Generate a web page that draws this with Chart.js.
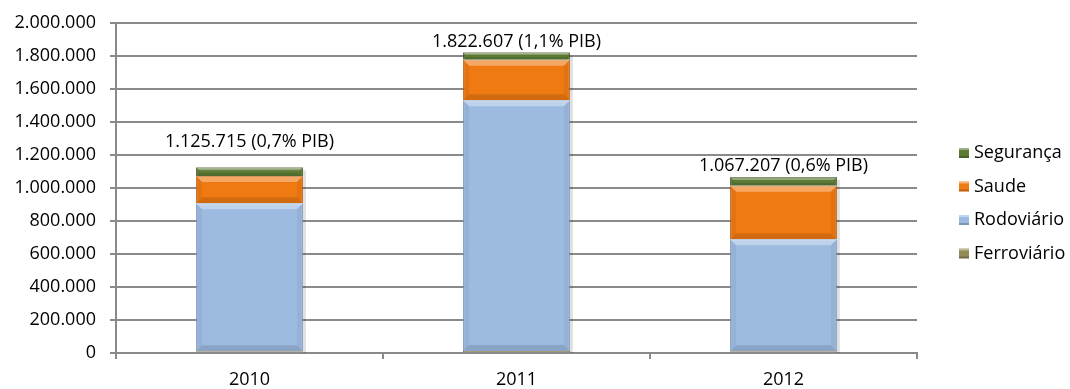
<!DOCTYPE html>
<html>
<head>
<meta charset="utf-8">
<script src="https://cdn.jsdelivr.net/npm/chart.js@4/dist/chart.umd.min.js"></script>
<style>
  html, body { margin: 0; padding: 0; background: #fff; }
  #wrap { width: 1070px; height: 389px; }
</style>
</head>
<body>
<div id="wrap"><canvas id="chart" width="1070" height="389"></canvas></div>
<script>
// chart data
const years = ['2010', '2011', '2012'];
const ferroviario = [10000, 12000, 10000];
const rodoviario = [897000, 1520000, 679000];
const saude = [165000, 246000, 324000];
const seguranca = [53715, 44607, 54207];
const totalLabels = ['1.125.715 (0,7% PIB)', '1.822.607 (1,1% PIB)', '1.067.207 (0,6% PIB)'];
const yTicks = [0, 200000, 400000, 600000, 800000, 1000000, 1200000, 1400000, 1600000, 1800000, 2000000];

const FONT = '"Open Sans", sans-serif';
const FSIZE = 18;
const gridColor = '#8a8a8a';
// manual label lift above each stack, as placed in the original
const labelLift = [25, 10, 11];

function fmt(v) {
  return String(v).replace(/\B(?=(\d{3})+(?!\d))/g, '.');
}

// Excel-like bevel on each bar segment
const bevelPlugin = {
  id: 'bevel',
  beforeDatasetsDraw(chart) {
    // soft shadow to the right of each stack
    const ctx = chart.ctx;
    const last = chart.data.datasets.length - 1;
    chart.getDatasetMeta(last).data.forEach(bar => {
      const right = bar.x + bar.width / 2;
      ctx.save();
      ctx.fillStyle = 'rgba(0,0,0,0.12)';
      ctx.fillRect(right, bar.y + 3, 3, chart.chartArea.bottom - bar.y - 3);
      ctx.restore();
    });
  },
  afterDatasetsDraw(chart) {
    const ctx = chart.ctx;
    chart.data.datasets.forEach((ds, i) => {
      const meta = chart.getDatasetMeta(i);
      meta.data.forEach(bar => {
        const left = bar.x - bar.width / 2;
        const right = bar.x + bar.width / 2;
        const top = bar.y;
        const bottom = bar.base;
        const h = bottom - top;
        const b = Math.min(6, h / 3);
        if (b < 1.5) return;
        ctx.save();
        // top light edge
        ctx.fillStyle = 'rgba(255,255,255,0.35)';
        ctx.beginPath();
        ctx.moveTo(left, top); ctx.lineTo(right, top);
        ctx.lineTo(right - b, top + b); ctx.lineTo(left + b, top + b);
        ctx.closePath(); ctx.fill();
        // bottom dark edge
        ctx.fillStyle = 'rgba(0,0,0,0.12)';
        ctx.beginPath();
        ctx.moveTo(left, bottom); ctx.lineTo(right, bottom);
        ctx.lineTo(right - b, bottom - b); ctx.lineTo(left + b, bottom - b);
        ctx.closePath(); ctx.fill();
        // sides
        ctx.fillStyle = 'rgba(0,0,0,0.05)';
        ctx.beginPath();
        ctx.moveTo(left, top); ctx.lineTo(left + b, top + b);
        ctx.lineTo(left + b, bottom - b); ctx.lineTo(left, bottom);
        ctx.closePath(); ctx.fill();
        ctx.beginPath();
        ctx.moveTo(right, top); ctx.lineTo(right - b, top + b);
        ctx.lineTo(right - b, bottom - b); ctx.lineTo(right, bottom);
        ctx.closePath(); ctx.fill();
        ctx.restore();
      });
    });
  }
};

// total labels above the stacks
const totalsPlugin = {
  id: 'totals',
  afterDatasetsDraw(chart) {
    const ctx = chart.ctx;
    const last = chart.data.datasets.length - 1;
    const meta = chart.getDatasetMeta(last);
    ctx.save();
    ctx.font = FSIZE + 'px ' + FONT;
    ctx.fillStyle = '#000';
    ctx.textAlign = 'center';
    ctx.textBaseline = 'middle';
    meta.data.forEach((bar, i) => {
      ctx.fillText(totalLabels[i], bar.x, bar.y - labelLift[i]);
    });
    ctx.restore();
  }
};

// legend drawn on the right, reversed order like Excel
const legendPlugin = {
  id: 'sideLegend',
  afterDraw(chart) {
    const ctx = chart.ctx;
    const items = chart.data.datasets.slice().reverse();
    ctx.save();
    ctx.font = FSIZE + 'px ' + FONT;
    ctx.textBaseline = 'middle';
    items.forEach((ds, i) => {
      const y = 153 + i * 33.5;
      ctx.fillStyle = ds.backgroundColor;
      ctx.fillRect(959, y - 5, 10, 10);
      ctx.fillStyle = 'rgba(255,255,255,0.4)';
      ctx.fillRect(959, y - 5, 10, 2);
      ctx.fillStyle = 'rgba(0,0,0,0.2)';
      ctx.fillRect(959, y + 3, 10, 2);
      ctx.fillStyle = '#000';
      ctx.fillText(ds.label, 974, y);
    });
    ctx.restore();
  }
};

new Chart(document.getElementById('chart'), {
  type: 'bar',
  data: {
    labels: years,
    datasets: [
      { label: 'Ferroviário', data: ferroviario, backgroundColor: '#948a54', borderColor: '#6f683f' },
      { label: 'Rodoviário', data: rodoviario, backgroundColor: '#9dbbe1', borderColor: '#7f9bc0' },
      { label: 'Saude', data: saude, backgroundColor: '#f07a12', borderColor: '#c25f0c' },
      { label: 'Segurança', data: seguranca, backgroundColor: '#5c7a34', borderColor: '#3f5724' }
    ].map(d => Object.assign(d, { borderWidth: 1, categoryPercentage: 1, barPercentage: 0.4 }))
  },
  options: {
    responsive: false,
    animation: false,
    layout: { padding: { top: 20, right: 153, bottom: 0, left: 0 } },
    plugins: {
      legend: { display: false },
      tooltip: { enabled: false }
    },
    scales: {
      x: {
        stacked: true,
        grid: { drawOnChartArea: false, color: gridColor, tickLength: 6, lineWidth: 2 },
        border: { color: gridColor, width: 2 },
        ticks: { color: '#000', font: { family: FONT, size: FSIZE }, padding: 10 },
        afterFit(scale) { scale.height = 36; }
      },
      y: {
        stacked: true,
        min: 0,
        max: 2000000,
        afterBuildTicks(scale) { scale.ticks = yTicks.map(v => ({ value: v })); },
        grid: { color: gridColor, lineWidth: 2, tickLength: 6 },
        border: { color: gridColor, width: 2 },
        ticks: {
          color: '#000',
          font: { family: FONT, size: FSIZE, lineHeight: 1 },
          padding: 14,
          callback: v => fmt(v)
        },
        afterFit(scale) { scale.width = 116; }
      }
    }
  },
  plugins: [bevelPlugin, totalsPlugin, legendPlugin]
});
</script>
</body>
</html>
